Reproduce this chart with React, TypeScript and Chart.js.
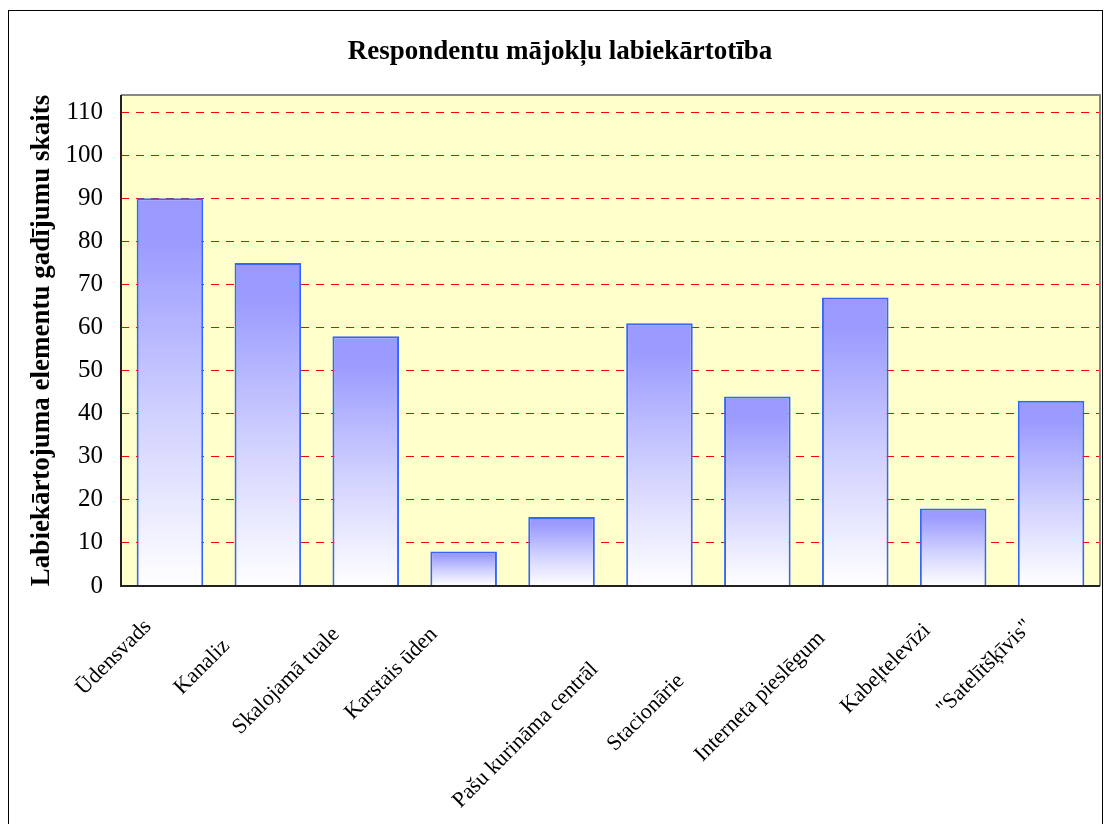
import React, { useEffect, useRef } from "react";
import { Chart, registerables } from "chart.js";

Chart.register(...registerables);

// Category labels as they appear (clipped) in the reference; the 5th bar has no visible label.
const categories = [
  "Ūdensvads",
  "Kanaliz",
  "Skalojamā tuale",
  "Karstais ūden",
  "",
  "Pašu kurināma centrāl",
  "Stacionārie",
  "Interneta pieslēgum",
  "Kabeļtelevīzi",
  "\"Satelītšķīvis\"",
];
// trailing blank space (in spaces) that reproduces where each clipped label stops
const labelGaps = [0, 5, 2, 2, 0, 11, 14, 3, 1, 0];
const values = [90, 75, 58, 8, 16, 61, 44, 67, 18, 43];
const yTicks = [0, 10, 20, 30, 40, 50, 60, 70, 80, 90, 100, 110];
const titleText = "Respondentu mājokļu labiekārtotība";
const yTitleText = "Labiekārtojuma elementu gadījumu skaits";

const SERIF = "'Liberation Serif', 'Times New Roman', serif";

export default function App() {
  const ref = useRef<HTMLCanvasElement | null>(null);

  useEffect(() => {
    if (!ref.current) return;
    const frameAndArea = {
      id: "frameAndArea",
      beforeDraw(chart: any) {
        const { ctx, chartArea } = chart;
        ctx.save();
        ctx.fillStyle = "#ffffff";
        ctx.fillRect(0, 0, chart.width, chart.height);
        ctx.strokeStyle = "#000000";
        ctx.lineWidth = 1;
        ctx.strokeRect(8.5, 10.5, 1094, 830);
        if (chartArea) {
          ctx.fillStyle = "#FFFFCC";
          ctx.fillRect(chartArea.left, chartArea.top, chartArea.right - chartArea.left, chartArea.bottom - chartArea.top);
        }
        ctx.restore();
      },
      afterDraw(chart: any) {
        const { ctx, chartArea } = chart;
        if (!chartArea) return;
        ctx.save();
        ctx.lineWidth = 2;
        ctx.strokeStyle = "#888888";
        ctx.beginPath();
        ctx.moveTo(chartArea.left, chartArea.top);
        ctx.lineTo(chartArea.right, chartArea.top);
        ctx.lineTo(chartArea.right, chartArea.bottom);
        ctx.stroke();
        ctx.strokeStyle = "#222222";
        ctx.beginPath();
        ctx.moveTo(chartArea.left, chartArea.top);
        ctx.lineTo(chartArea.left, chartArea.bottom);
        ctx.lineTo(chartArea.right, chartArea.bottom);
        ctx.stroke();
        ctx.restore();
      },
    };

    const chart = new Chart(ref.current, {
      type: "bar",
      data: {
        labels: categories,
        datasets: [
          {
            data: values,
            borderColor: "#3366FF",
            borderWidth: 2,
            backgroundColor: (c: any) => {
              const ch = c.chart;
              const ys = ch.scales && ch.scales.y;
              if (!ch.chartArea || !ys || c.raw == null) return "#9999FF";
              const top = ys.getPixelForValue(c.raw);
              const bottom = ys.getPixelForValue(0);
              if (!isFinite(top) || !isFinite(bottom) || top === bottom) return "#9999FF";
              const g = ch.ctx.createLinearGradient(0, top, 0, bottom);
              g.addColorStop(0, "#9999FF");
              g.addColorStop(0.12, "#9C9CFF");
              g.addColorStop(0.55, "#D0D0FF");
              g.addColorStop(1, "#FFFFFF");
              return g;
            },
            barPercentage: 0.68,
            categoryPercentage: 1,
          },
        ],
      },
      options: {
        animation: false,
        responsive: false,
        layout: { padding: { top: 10, left: 20, right: 4, bottom: 0 } },
        plugins: {
          legend: { display: false },
          tooltip: { enabled: false },
          title: {
            display: true,
            text: titleText,
            color: "#000",
            font: { family: SERIF, size: 27, weight: "bold", lineHeight: 1.2 },
            padding: { top: 25.8, bottom: 26.8 },
          },
        },
        scales: {
          x: {
            grid: { display: false },
            border: { display: false },
            ticks: {
              autoSkip: false,
              minRotation: 45,
              maxRotation: 45,
              color: "#000",
              padding: 20,
              labelOffset: -22,
              font: { family: SERIF, size: 22 },
              callback: (_v: any, i: number) =>
                categories[i] ? categories[i] + "\u00A0".repeat(labelGaps[i]) : "",
            },
            afterFit: (s: any) => {
              s.height = 238;
            },
          },
          y: {
            min: 0,
            max: 114,
            grid: {
              color: "#FF0000",
              lineWidth: 1,
              drawTicks: false,
              tickLength: 0,
            },
            border: { display: false, dash: [8, 7] },
            ticks: {
              stepSize: 10,
              color: "#000",
              padding: 18,
              font: { family: SERIF, size: 25 },
            },
            afterBuildTicks: (s: any) => {
              s.ticks = yTicks.map((v) => ({ value: v }));
            },
            afterFit: (s: any) => {
              s.width = 101;
            },
            title: {
              display: true,
              text: yTitleText,
              color: "#000",
              font: { family: SERIF, size: 27, weight: "bold", lineHeight: 1.2 },
              padding: { top: 6, bottom: 0 },
            },
          },
        },
      },
      plugins: [frameAndArea],
    });
    return () => chart.destroy();
  }, []);

  return (
    <div style={{ position: "absolute", left: 0, top: 0, width: 1104, height: 824 }}>
      <canvas ref={ref} width={1104} height={824} style={{ display: "block" }} />
    </div>
  );
}
